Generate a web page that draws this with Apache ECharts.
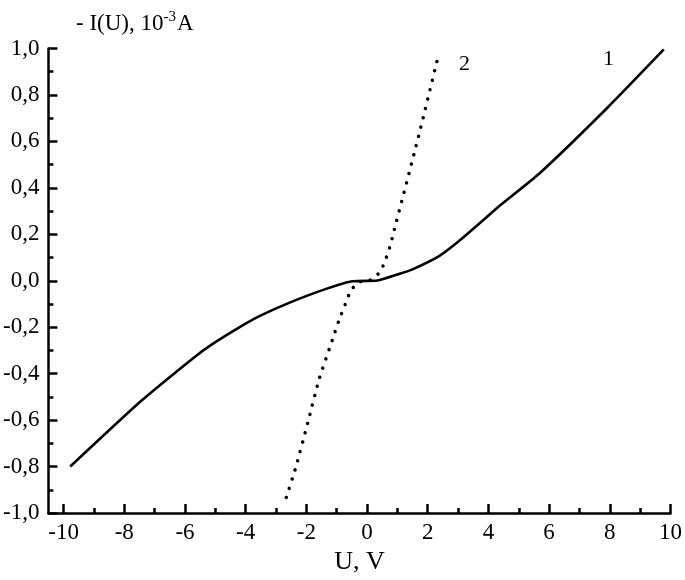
<!DOCTYPE html>
<html><head><meta charset="utf-8">
<script src="https://cdn.jsdelivr.net/npm/echarts@6/dist/echarts.min.js"></script>
<style>html,body{margin:0;padding:0;background:#fff}#c{width:685px;height:580px}</style>
</head><body><div id="c"></div>
<script>
// Curve 1 (solid)
const curve1U = [-9.78, -7.43, -5.69, -5.17, -3.99, -3.53, -2.55, -1.35, -0.48, 0.28, 0.39, 1.05, 1.48, 2.36, 3.01, 3.89, 4.32, 5.68, 7.92, 9.78];
const curve1I = [-0.80, -0.516, -0.329, -0.279, -0.184, -0.151, -0.094, -0.035, -0.002, 0.0, 0.002, 0.029, 0.048, 0.105, 0.169, 0.268, 0.318, 0.462, 0.745, 0.996];
// Curve 2 (dotted)
const curve2U = [-2.66, -2.34, -1.95, -1.57, -1.13, -0.92, -0.66, -0.53, -0.24, 0.09, 0.37, 0.56, 0.78, 0.86, 1.70, 2.34];
const curve2I = [-0.933, -0.80, -0.61, -0.42, -0.25, -0.168, -0.083, -0.04, -0.005, 0.002, 0.03, 0.073, 0.158, 0.20, 0.623, 0.964];
// Ticks
const xMajorTicks = [-10, -8, -6, -4, -2, 0, 2, 4, 6, 8, 10];
const xMinorTicks = [-9, -7, -5, -3, -1, 1, 3, 5, 7, 9];
const curveNames = ['1', '2'];

const FONT = 'Liberation Serif';
const zip = (a, b) => a.map((v, i) => [v, b[i]]);

const chart = echarts.init(document.getElementById('c'), null, {renderer: 'canvas'});
chart.setOption({
  animation: false,
  backgroundColor: '#fff',
  title: {
    text: '- I(U), 10{sup|-3}A',
    left: 71, top: 5,
    textStyle: {
      fontFamily: FONT, fontSize: 23, fontWeight: 'normal', color: '#000',
      rich: {
        sup: {fontFamily: FONT, fontSize: 15, color: '#000', verticalAlign: 'top', lineHeight: 28, padding: [0, 1, 12, 0]}
      }
    }
  },
  grid: {left: 46, right: 12, top: 48.5, bottom: 63, containLabel: false},
  xAxis: [{
    type: 'value', min: -10.5, max: 10,
    name: 'U, V', nameLocation: 'middle', nameGap: 36,
    nameTextStyle: {fontFamily: FONT, fontSize: 26, color: '#000'},
    axisLine: {show: true, onZero: false, lineStyle: {color: '#000', width: 2.5}},
    axisTick: {show: true, inside: true, length: 9, customValues: xMajorTicks, lineStyle: {color: '#000', width: 2.5}},
    axisLabel: {customValues: xMajorTicks, fontFamily: FONT, fontSize: 23, color: '#000', margin: 8},
    splitLine: {show: false}
  }, {
    type: 'value', min: -10.5, max: 10, position: 'bottom',
    axisLine: {show: false, onZero: false},
    axisTick: {show: true, inside: true, length: 5, customValues: xMinorTicks, lineStyle: {color: '#000', width: 2.5}},
    axisLabel: {show: false},
    splitLine: {show: false}
  }],
  yAxis: {
    type: 'value', min: -1, max: 1, interval: 0.2,
    axisLine: {show: true, onZero: false, lineStyle: {color: '#000', width: 2.5}},
    axisTick: {show: true, inside: true, length: 9, lineStyle: {color: '#000', width: 2.5}},
    minorTick: {show: true, splitNumber: 2, length: 5, lineStyle: {color: '#000', width: 2.5}},
    axisLabel: {
      fontFamily: FONT, fontSize: 23, color: '#000', margin: 9,
      formatter: v => v.toFixed(1).replace('.', ',')
    },
    splitLine: {show: false},
    minorSplitLine: {show: false}
  },
  series: [{
    name: curveNames[0], type: 'line', xAxisIndex: 0, data: zip(curve1U, curve1I),
    showSymbol: false, smooth: 0.2,
    lineStyle: {color: '#000', width: 2.6}
  }, {
    name: curveNames[1], type: 'line', xAxisIndex: 0, data: zip(curve2U, curve2I),
    showSymbol: false, smooth: 0.2,
    lineStyle: {color: '#000', width: 3.5, type: [0.01, 9.6], cap: 'round'}
  }],
  graphic: [
    {type: 'text', left: 603, top: 48, style: {text: curveNames[0], font: '22px "Liberation Serif"', fill: '#000'}},
    {type: 'text', left: 459, top: 53, style: {text: curveNames[1], font: '22px "Liberation Serif"', fill: '#000'}}
  ]
});
</script>
</body></html>
